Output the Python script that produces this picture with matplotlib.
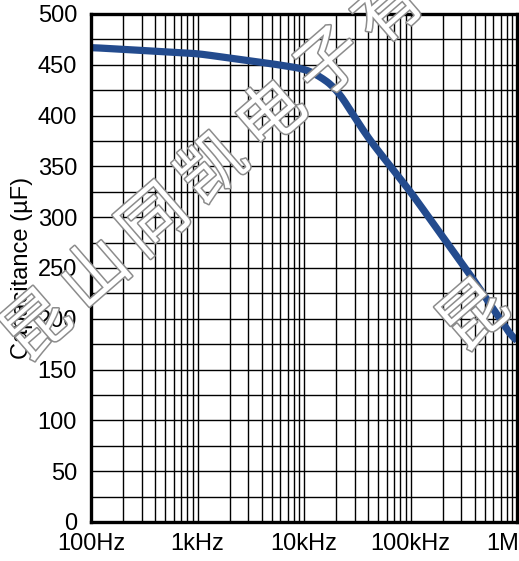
import matplotlib
matplotlib.use('Agg')
import matplotlib.pyplot as plt
import matplotlib.patheffects as pe
import numpy as np

plt.rcParams['font.family'] = ['Liberation Sans', 'DejaVu Sans']

# curve
freq = [100, 1000, 5000, 10000, 13000, 20000, 40000, 100000, 220000, 400000, 1000000]
cap = [467, 461, 451, 446, 441, 427, 378, 325, 275, 237, 175]

xticks = [100, 1000, 10000, 100000, 1000000]
xlabels = ['100Hz', '1kHz', '10kHz', '100kHz', '1MHz']
yticks = [0, 50, 100, 150, 200, 250, 300, 350, 400, 450, 500]

watermark = '昆山同凯电子有限公司'

fig = plt.figure(figsize=(5.19, 5.61), dpi=100)
ax = fig.add_axes([91/519, 1-522/561, 426/519, 508/561])

# smooth in log-x
lf = np.log10(freq)
xs = np.linspace(lf[0], lf[-1], 400)
ys = np.interp(xs, lf, cap)
k = 9
ys = np.convolve(np.pad(ys, k, mode='edge'), np.ones(2*k+1)/(2*k+1), mode='same')[k:-k]
ax.plot(10**xs, ys, color='#234b8e', lw=5.2, solid_capstyle='butt', zorder=3)

ax.set_xscale('log')
ax.set_xlim(100, 1e6)
ax.set_ylim(0, 500)
ax.set_xticks(xticks)
ax.set_xticklabels(xlabels)
ax.set_xticks([m*10**e for e in range(2, 6) for m in range(2, 10)], minor=True)
ax.set_yticks(yticks)
ax.set_yticks(np.arange(25, 500, 50), minor=True)
ax.xaxis.set_minor_formatter(plt.NullFormatter())
ax.tick_params(which='both', length=0, labelsize=17, colors='black')
ax.tick_params(axis='y', pad=10)
ax.tick_params(axis='x', pad=8)
ax.grid(True, which='both', color='black', lw=1.0)
for s in ax.spines.values():
    s.set_linewidth(2.4)
    s.set_zorder(4)
ax.set_ylabel('Capacitance (µF)', fontsize=17)
ax.yaxis.set_label_coords(-0.136, 0.5)

# watermark, outlined characters along a diagonal
start = np.array([38.0, 328.0])
step = np.array([58.7, -52.7])
fx = [pe.withStroke(linewidth=2.2, foreground='#8c8c8c')]
pos = [start + i*step for i in range(7)] + [np.array([475.0, 318.0])]
chars = list(watermark[:7]) + [watermark[0]]
for (px, py), ch in zip(pos, chars):
    fig.text(px/519, 1-py/561, ch, fontsize=48, rotation=41, color='white',
             family=['Noto Sans CJK SC'], weight='medium', ha='center', va='center',
             path_effects=fx, zorder=10)

fig.savefig('out.png', dpi=100)
